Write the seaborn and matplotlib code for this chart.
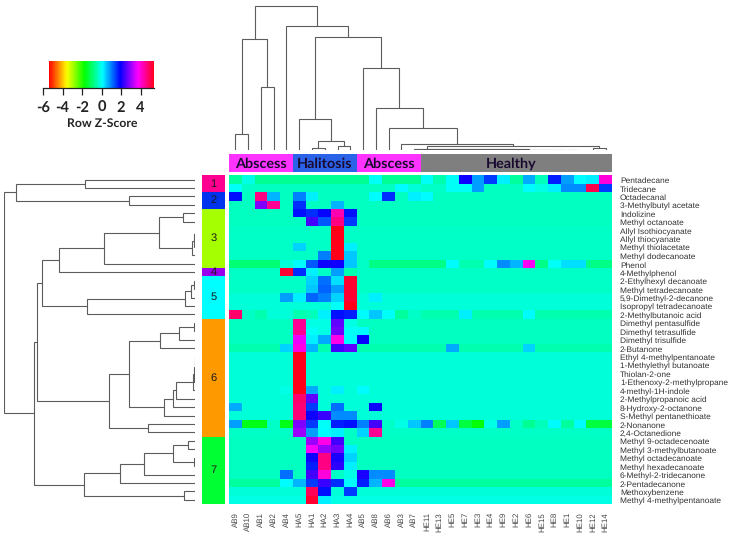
import numpy as np
import pandas as pd
import matplotlib
matplotlib.use("Agg")
import matplotlib.pyplot as plt
from matplotlib.colors import ListedColormap, Normalize
from matplotlib.transforms import ScaledTranslation
import seaborn as sns

W, H = 734, 538

compounds = ["Pentadecane", "Tridecane", "Octadecanal", "3-Methylbutyl acetate", "Indolizine",
             "Methyl octanoate", "Allyl Isothiocyanate", "Allyl thiocyanate", "Methyl thiolacetate",
             "Methyl dodecanoate", "Phenol", "4-Methylphenol", "2-Ethylhexyl decanoate",
             "Methyl tetradecanoate", "5,9-Dimethyl-2-decanone", "Isopropyl tetradecanoate",
             "2-Methylbutanoic acid", "Dimethyl pentasulfide", "Dimethyl tetrasulfide",
             "Dimethyl trisulfide", "2-Butanone", "Ethyl 4-methylpentanoate", "1-Methylethyl butanoate",
             "Thiolan-2-one", "1-Ethenoxy-2-methylpropane", "4-methyl-1H-indole", "2-Methylpropanoic acid",
             "8-Hydroxy-2-octanone", "S-Methyl pentanethioate", "2-Nonanone", "2,4-Octanedione",
             "Methyl 9-octadecenoate", "Methyl 3-methylbutanoate", "Methyl octadecanoate",
             "Methyl hexadecanoate", "6-Methyl-2-tridecanone", "2-Pentadecanone", "Methoxybenzene",
             "Methyl 4-methylpentanoate"]
samples = ["AB9", "AB10", "AB1", "AB2", "AB4", "HA5", "HA1", "HA2", "HA3", "HA4", "AB5", "AB8", "AB6",
           "AB3", "AB7", "HE11", "HE13", "HE5", "HE7", "HE3", "HE4", "HE9", "HE2", "HE6", "HE15", "HE8",
           "HE1", "HE10", "HE12", "HE14"]

r00 = [-.6,-.1,-.7,-.7,-.7, -.7,-.7,-.7,-.7,-.7, -.7,0,-.7,-.7,-.7, 0,-.5,0,2,.8, 1.5,.2,-.6,.7,-.4, 1.7,.8,.1,.2,4]
r01 = [0,-.3,-.35,-.35,-.35, -.35,-.35,-.35,-.35,-.35, -.35,-.35,-.35,.1,-.2, -.3,-.3,0,0,.8, -.35,-.35,-.35,.1,-.1, .2,.9,.9,5,1.5]
r02 = [1.8,-.35,4.6,.6,-.35, 1,.2,-.35,-.35,-.35, -.35,.1,1.6,-.35,.2, .1,-.35,-.35,-.35,-.35, -.35,-.35,-.35,-.35,-.35, -.35,-.35,-.35,-.35,-.35]
r03 = [-.35,-.35,2.8,4.5,-.35, 1.6,-.35,-.35,.6,-.35, -.35,-.35,-.35,-.35,-.35, -.35,-.35,-.35,-.35,-.35, -.35,-.35,-.35,-.35,-.35, -.35,-.35,-.35,-.35,-.35]
r04 = [-.35,-.35,-.35,-.35,-.35, 1.8,1.6,1.9,4.3,1.8, -.35,-.35,-.35,-.35,-.35, -.35,-.35,-.35,-.35,-.35, -.35,-.35,-.35,-.35,-.35, -.35,-.35,-.35,-.35,-.35]
r05 = [-.35,-.35,-.35,-.35,-.35, -.35,2.4,1.3,4.6,1.5, -.35,-.35,-.35,-.35,-.35, -.35,-.35,-.35,-.35,-.35, -.35,-.35,-.35,-.35,-.35, -.35,-.35,-.35,-.35,-.35]
r06 = [-.3,-.3,-.3,-.3,-.3, -.3,-.3,-.3,5.4,-.3, -.3,-.3,-.3,-.3,-.3, -.3,-.3,-.3,-.3,-.3, -.3,-.3,-.3,-.3,-.3, -.3,-.3,-.3,-.3,-.3]
r07 = [-.3,-.3,-.3,-.3,-.3, -.3,-.3,-.3,5.4,-.3, -.3,-.3,-.3,-.3,-.3, -.3,-.3,-.3,-.3,-.3, -.3,-.3,-.3,-.3,-.3, -.3,-.3,-.3,-.3,-.3]
r08 = [-.3,-.3,-.3,-.3,-.3, .4,-.3,-.3,5.4,.2, -.3,-.3,-.3,-.3,-.3, -.3,-.3,-.3,-.3,-.3, -.3,-.3,-.3,-.3,-.3, -.3,-.3,-.3,-.3,-.3]
r09 = [-.3,-.3,-.3,-.3,-.3, -.3,-.3,1,5.4,.5, -.3,-.3,-.3,-.3,-.3, -.3,-.3,-.3,-.3,-.3, -.3,-.3,-.3,-.3,-.3, -.3,-.3,-.3,-.3,-.3]
r10 = [-.9,-.9,-.9,-.9,-.2, .1,1.3,2,2,.5, -.3,-.8,-.8,-.8,-.8, -.8,-.8,.1,-.5,-.5, .1,.9,.6,3.8,-.8, 0,.3,.3,-.8,-.8]
r11 = [-.3,-.3,-.3,-.3,5.2, 1.6,.2,-.3,.8,-.5, -.3,-.3,-.3,-.3,-.3, -.3,-.3,-.3,-.3,-.3, -.3,-.3,-.3,-.3,-.3, -.3,-.3,-.3,-.3,-.3]
r12 = [-.3,-.3,-.3,-.3,-.3, -.3,.4,1.1,.3,5.2, -.3,-.3,-.3,-.3,-.3, -.3,-.3,-.3,-.3,-.3, -.3,-.3,-.3,-.3,-.3, -.3,-.3,-.3,-.3,-.3]
r13 = [-.3,-.3,-.3,-.3,-.3, -.3,.5,1.2,.8,5.2, -.3,-.3,-.3,-.3,-.3, -.3,-.3,-.3,-.3,-.3, -.3,-.3,-.3,-.3,-.3, -.3,-.3,-.3,-.3,-.3]
r14 = [-.2,-.2,-.2,-.2,.8, .2,1.2,1,.4,5.2, -.2,.2,-.2,-.2,-.2, -.2,-.2,-.2,-.2,-.2, -.2,-.2,-.2,-.2,-.2, -.2,-.2,-.2,-.2,-.2]
r15 = [-.2,-.2,-.2,-.2,-.2, -.2,-.2,-.2,0,5.4, -.2,-.2,-.2,-.2,-.2, -.2,-.2,-.2,-.2,-.2, -.2,-.2,-.2,-.2,-.2, -.2,-.2,-.2,-.2,-.2]
r16 = [4.8,-.3,-.5,-.2,-.2, -.5,-.4,.2,1.8,1.7, .1,.5,0,-.6,-.3, -.5,-.5,-.5,.2,-.5, -.5,-.5,-.5,.1,-.5, -.5,-.5,-.5,-.5,-.5]
r17 = [-.35,-.35,-.35,-.35,-.35, 4.5,-.1,-.1,2.6,-.1, -.35,-.35,-.35,-.35,-.35, -.35,-.35,-.35,-.35,-.35, -.35,-.35,-.35,-.35,-.35, -.35,-.35,-.35,-.35,-.35]
r18 = [-.35,-.35,-.35,-.35,-.35, 4.5,0,-.1,2.7,0, .1,-.35,-.35,-.35,-.35, -.35,-.35,-.35,-.35,-.35, -.35,-.35,-.35,-.35,-.35, -.35,-.35,-.35,-.35,-.35]
r19 = [-.35,-.35,-.35,-.35,-.35, 3.6,.2,.7,3.9,.1, 1.9,-.35,-.35,-.35,-.35, -.35,-.35,-.35,-.35,-.35, -.35,-.35,-.35,-.35,-.35, -.35,-.35,-.35,-.35,-.35]
r20 = [-.5,-.5,-.5,-.5,.4, 3.9,.6,-.5,2.4,2.6, -.5,-.5,-.5,-.5,-.5, -.5,-.5,.7,-.5,-.5, -.5,-.5,-.5,.4,-.5, -.5,-.5,-.5,-.5,-.5]
r21 = [-.2,-.2,-.2,-.2,-.2, 5.4,-.2,-.2,-.2,-.2, -.2,-.2,-.2,-.2,-.2, -.2,-.2,-.2,-.2,-.2, -.2,-.2,-.2,-.2,-.2, -.2,-.2,-.2,-.2,-.2]
r22 = [-.2,-.2,-.2,-.2,-.2, 5.4,-.2,-.2,-.2,-.2, -.2,-.2,-.2,-.2,-.2, -.2,-.2,-.2,-.2,-.2, -.2,-.2,-.2,-.2,-.2, -.2,-.2,-.2,-.2,-.2]
r23 = [-.2,-.2,-.2,-.2,-.2, 5.4,-.2,-.2,-.2,-.2, -.2,-.2,-.2,-.2,-.2, -.2,-.2,-.2,-.2,-.2, -.2,-.2,-.2,-.2,-.2, -.2,-.2,-.2,-.2,-.2]
r24 = [-.2,-.2,-.2,-.2,-.2, 5.4,-.2,-.2,-.2,-.2, -.2,-.2,-.2,-.2,-.2, -.2,-.2,-.2,-.2,-.2, -.2,-.2,-.2,-.2,-.2, -.2,-.2,-.2,-.2,-.2]
r25 = [-.2,-.2,-.2,-.2,-.1, 5.4,.7,-.2,.2,-.2, .1,-.2,-.2,-.2,-.2, -.2,-.2,-.2,-.2,-.2, -.2,-.2,-.2,-.2,-.2, -.2,-.2,-.2,-.2,-.2]
r26 = [-.2,-.2,-.2,-.2,-.2, 4.8,2.6,-.2,-.2,-.2, -.2,-.2,-.2,-.2,-.2, -.2,-.2,-.2,-.2,-.2, -.2,-.2,-.2,-.2,-.2, -.2,-.2,-.2,-.2,-.2]
r27 = [.7,-.2,-.2,-.2,-.2, 4.7,1.5,-.2,1.1,-.2, -.2,2,-.2,-.2,-.2, -.2,-.2,-.2,-.2,-.2, -.2,-.2,-.2,-.2,-.2, -.2,-.2,-.2,-.2,-.2]
r28 = [-.2,-.2,-.2,-.2,-.2, 4.7,2,2.3,.9,.9, -.2,-.2,-.2,-.2,-.2, -.2,-.2,-.2,-.2,-.2, -.2,-.2,-.2,-.2,-.2, -.2,-.2,-.2,-.2,-.2]
r29 = [.8,-1.6,-1.6,-.3,-1.6, 2.8,1.5,0,1.7,1.8, 1,2.4,-.3,-.1,.5, 1,-1.1,.5,-1.3,-1.7, -.1,.8,-.3,-.7,-.4, .1,-.6,.1,-1.3,-1.3]
r30 = [-.3,-.3,-.3,-.3,-.3, 3,.8,.1,.2,-.3, .4,4.5,-.3,-.3,-.3, -.3,-.3,-.3,-.3,-.3, -.3,-.3,-.3,-.3,-.3, -.3,-.3,-.3,-.3,-.3]
r31 = [-.35,-.35,-.35,-.35,-.35, -.35,3,3.9,2.4,-.35, -.35,-.35,-.35,-.35,-.35, -.35,-.35,-.35,-.35,-.35, -.35,-.35,-.35,-.35,-.35, -.35,-.35,-.35,-.35,-.35]
r32 = [-.35,-.35,-.35,-.35,-.35, -.35,3.7,3,2.7,.2, -.35,-.35,-.35,-.35,-.35, -.35,-.35,-.35,-.35,-.35, -.35,-.35,-.35,-.35,-.35, -.35,-.35,-.35,-.35,-.35]
r33 = [-.35,-.35,-.35,-.35,-.35, -.35,2,4.6,2.1,.4, -.35,-.35,-.35,-.35,-.35, -.35,-.35,-.35,-.35,-.35, -.35,-.35,-.35,-.35,-.35, -.35,-.35,-.35,-.35,-.35]
r34 = [-.35,-.35,-.35,-.35,-.35, -.35,1.7,4.6,2.2,.2, -.35,-.35,-.35,-.35,-.35, -.35,-.35,-.35,-.35,-.35, -.35,-.35,-.35,-.35,-.35, -.35,-.35,-.35,-.35,-.35]
r35 = [-.35,-.35,-.35,-.35,1.1, -.35,2.4,4,-.3,-.1, 2.1,.9,.9,-.35,-.35, -.35,-.35,-.35,-.35,-.35, -.35,-.35,-.35,-.35,-.35, -.35,-.35,-.35,-.35,-.35]
r36 = [-.6,-.6,-.6,-.6,.1, .6,1.5,2.3,1.6,.1, 1.7,.6,3.9,-.6,-.6, -.6,-.6,-.6,-.6,-.6, -.6,-.6,-.6,-.6,-.6, -.6,-.6,-.6,-.6,-.6]
r37 = [-.2,-.2,-.2,-.2,-.2, -.2,4.9,1.8,-.2,1.5, -.2,-.2,-.2,-.2,-.2, -.2,-.2,-.2,-.2,-.2, -.2,-.2,-.2,-.2,-.2, -.2,-.2,-.2,-.2,-.2]
r38 = [-.1,-.1,-.1,-.1,-.1, -.1,5.2,.2,-.1,-.1, -.1,-.1,-.1,-.1,-.1, -.1,-.1,-.1,-.1,-.1, -.1,-.1,-.1,-.1,-.1, -.1,-.1,-.1,-.1,-.1]
heat_rows = [r00, r01, r02, r03, r04, r05, r06, r07, r08, r09, r10, r11, r12, r13, r14, r15, r16, r17, r18, r19,
             r20, r21, r22, r23, r24, r25, r26, r27, r28, r29, r30, r31, r32, r33, r34, r35, r36, r37, r38]

cluster_names = ["1", "2", "3", "4", "5", "6", "7"]
cluster_sizes = [2, 2, 7, 1, 5, 14, 8]
cluster_colors = ["#FF0090", "#0033EE", "#A6FF00", "#9900EE", "#00FFFF", "#FF9900", "#00FF33"]

group_names = ["Abscess", "Halitosis", "Abscess", "Healthy"]
group_sizes = [5, 5, 5, 15]
group_colors = ["#FF33FF", "#2A62E8", "#FF33FF", "#7F7F7F"]

legend_ticks = [-6, -4, -2, 0, 2, 4]
legend_labels = ["-6", "-4", "-2", "0", "2", "4"]
VMIN, VMAX = -5.4, 5.4

# dendrograms: nested (left, right, merge height); integers are leaf indices
healthy_order = [26, 25, 24, 23, 22, 21, 20, 19, 18, 17, 16, 15, 14]
healthy_heights = [.5, .5, .5, .5, .5, .6, .6, .6, .6, .7, .7, .7, 1.0]
healthy_chain = 27
for leaf, height in zip(healthy_order, healthy_heights):
    healthy_chain = (leaf, healthy_chain, height)
healthy_tree = (healthy_chain, (28, 29, 1.7), 4.0)
right_tree = (10, (11, (12, (13, healthy_tree, 5.7), 21.7), 41.7), 81.7)
halitosis_tree = (5, ((6, 7, 1.7), (8, 9, 4.3), 9.0), 31.0)
col_tree = (((0, 1, 15.7), (2, 3, 63.3), 110.7),
            (4, (halitosis_tree, right_tree, 113.3), 124.0), 144.0)

top_rows = ((0, 1, 110.0), (2, 3, 65.7), 179.3)
c3 = (((4, 5, 12.0), (((6, 7, .5), 8, 1.3), 9, 3.3), 36.0), 10, 91.3)
c5 = ((((12, 13, .6), 14, 4.3), 15, 10.0), 16, 108.0)
c6a = (((17, 18, 1.3), 19, 16.3), 20, 35.3)
c6b = ((((((21, 22, .3), 23, .5), 24, .7), 25, 1.7), 26, 18.7), 27, 22.3)
c6 = (((c6a, (c6b, 28, 30.7), 66.0)), (29, 30, 46.7), 85.7)
c7 = ((((((31, 32, 6.7), (33, 34, 1.3), 21.7), 35, 50.7), 36, 75.0)), (37, 38, 10.7), 110.7)
row_tree = (top_rows, ((((c3, 11, 135.7), c5, 153.0), c6, 158.3), c7, 160.7), 190.7)

LINE = "#5c5c5c"


def axes_px(x0, y0, x1, y1):
    return fig.add_axes([x0 / W, 1 - y1 / H, (x1 - x0) / W, (y1 - y0) / H])


def draw_tree(ax, node, horizontal=False):
    if isinstance(node, (int, np.integer)):
        return node + 0.5, 0.0
    lp, lh = draw_tree(ax, node[0], horizontal)
    rp, rh = draw_tree(ax, node[1], horizontal)
    h = node[2]
    ps, hs = [lp, lp, rp, rp], [lh, h, h, rh]
    if horizontal:
        ax.plot(hs, ps, color=LINE, lw=0.8, solid_joinstyle="miter")
    else:
        ax.plot(ps, hs, color=LINE, lw=0.8, solid_joinstyle="miter")
    return (lp + rp) / 2, h


sns.set_style("white")
plt.rcParams["font.family"] = ["Liberation Sans", "DejaVu Sans"]
plt.rcParams["text.hinting"] = "no_hinting"
fig = plt.figure(figsize=(W / 100, H / 100), dpi=100, facecolor="white")

# main heatmap
X0, X1, Y0, Y1 = 229, 612, 175.3, 504
ax = axes_px(X0, Y0, X1, Y1)
df = pd.DataFrame(np.array(heat_rows), index=compounds, columns=samples)
sns.heatmap(df, ax=ax, cmap="hsv", vmin=VMIN, vmax=VMAX, cbar=False,
            xticklabels=True, yticklabels=True)
ax.yaxis.tick_right()
ax.tick_params(axis="both", length=0)
ax.tick_params(axis="y", labelsize=6.05, labelcolor="#333333", pad=5.8, labelrotation=0)
ax.tick_params(axis="x", labelsize=5.7, labelcolor="#444444", pad=5.8, labelrotation=90)
nudge_down = ScaledTranslation(0, -1 / 100, fig.dpi_scale_trans)
for t in ax.get_yticklabels():
    t.set_ha("left")
    t.set_transform(t.get_transform() + nudge_down)

# cluster strip
ax_r = axes_px(201.7, Y0, 225, Y1)
row_ids = np.repeat(np.arange(len(cluster_sizes)), cluster_sizes)
sns.heatmap(pd.DataFrame(row_ids), ax=ax_r, cmap=ListedColormap(cluster_colors), cbar=False,
            xticklabels=False, yticklabels=False, vmin=-0.5, vmax=6.5)
pos = 0
for name, size in zip(cluster_names, cluster_sizes):
    ax_r.text(0.5, pos + size / 2, name, ha="center", va="center", fontsize=8, color="#1a1a1a")
    pos += size

# group strip
ax_c = axes_px(X0, 154.3, X1, 171.7)
col_ids = np.repeat(np.arange(len(group_sizes)), group_sizes).reshape(1, -1)
sns.heatmap(pd.DataFrame(col_ids), ax=ax_c, cmap=ListedColormap(group_colors), cbar=False,
            xticklabels=False, yticklabels=False, vmin=-0.5, vmax=3.5)
pos = 0
for name, size, nudge in zip(group_names, group_sizes, [0, 0, 0, -0.4]):
    ax_c.text(pos + size / 2 + nudge, 0.55, name, ha="center", va="center", fontsize=10.4,
              fontweight="bold", color="#1a0a30", family=["Lato", "DejaVu Sans"])
    pos += size

# dendrograms
ax_top = axes_px(X0, 5, X1, 150)
draw_tree(ax_top, col_tree)
ax_top.set_xlim(0, 30)
ax_top.set_ylim(0, 145)
ax_top.axis("off")

ax_left = axes_px(4.3, Y0, 195, Y1)
draw_tree(ax_left, row_tree, horizontal=True)
ax_left.set_xlim(190.7, 0)
ax_left.set_ylim(39, 0)
ax_left.axis("off")

# colour key
ax_k = axes_px(43, 61, 154, 88)
gradient = np.linspace(VMIN, VMAX, 256)
ax_k.pcolormesh(np.linspace(VMIN, VMAX, 257), [0, 1], gradient[None, :], cmap="hsv",
                norm=Normalize(VMIN, VMAX))
ax_k.set_xlim(-6, 5.38)
ax_k.set_ylim(0, 1)
ax_k.set_yticks([])
ax_k.set_xticks(legend_ticks)
ax_k.set_xticklabels(legend_labels)
for s in ["top", "left", "right"]:
    ax_k.spines[s].set_visible(False)
ax_k.spines["bottom"].set_color("#222222")
ax_k.spines["bottom"].set_linewidth(0.9)
ax_k.tick_params(axis="x", bottom=True, length=5, width=0.9, color="#222222", pad=4, labelsize=10.5,
                 labelcolor="#222222")
for t in ax_k.get_xticklabels():
    t.set_fontweight("bold")
    t.set_family(["Lato", "DejaVu Sans"])
ax_k.text(0.1, -1.3, "Row Z-Score", transform=ax_k.get_xaxis_transform(), ha="center", va="center",
          fontsize=8.8, fontweight="bold", color="#222222", family=["Lato", "DejaVu Sans"])

fig.savefig("out.png", dpi=100, facecolor="white")
